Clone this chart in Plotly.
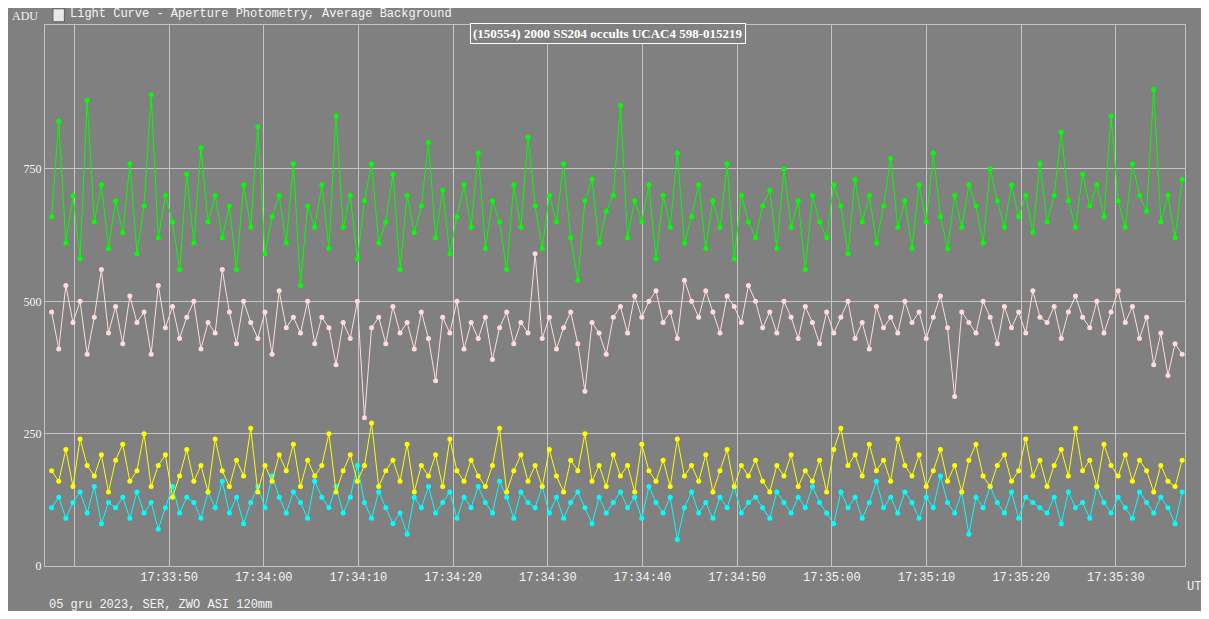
import pandas as pd
import plotly.graph_objects as go

t_start = "2023-12-05 17:33:37.6"
t_end = "2023-12-05 17:35:37.0"

green = [660,840,610,700,580,880,650,720,600,690,630,760,590,680,890,620,700,650,560,740,
         610,790,650,700,620,680,560,720,640,830,590,660,700,610,760,530,680,640,720,600,
         850,640,700,580,690,760,610,650,740,560,700,630,680,800,620,710,590,660,720,640,
         780,600,690,650,560,720,640,810,680,600,700,650,760,620,540,690,730,610,670,700,
         870,620,690,650,720,580,700,640,780,610,660,720,600,690,640,760,580,700,650,620,
         680,710,600,750,640,690,560,700,650,620,720,680,590,730,650,700,610,680,770,640,
         690,600,720,650,780,660,600,700,640,720,680,610,750,690,640,720,660,700,630,760,
         650,700,820,690,640,740,680,720,660,850,690,640,760,700,670,900,650,700,620,730]
pink = [480,410,530,460,500,400,470,560,440,490,420,510,460,480,400,530,450,490,430,470,
        500,410,460,440,560,480,420,500,460,430,480,400,520,450,470,440,500,420,470,450,
        380,460,430,500,280,450,470,420,490,440,460,410,480,430,350,470,440,500,410,460,
        430,470,390,450,480,420,460,440,590,430,470,410,450,480,420,330,460,440,400,470,
        490,440,510,470,500,520,460,480,430,540,500,470,520,480,440,510,490,460,530,500,
        450,480,440,500,470,430,490,460,420,480,440,470,500,430,460,410,490,450,470,440,
        500,460,480,430,470,510,450,320,480,460,440,500,470,420,490,450,480,440,520,470,
        460,490,430,480,510,470,450,500,440,480,520,460,490,430,470,380,440,360,420,400]
yellow = [180,160,220,150,240,190,170,210,140,200,230,160,180,250,150,190,210,130,170,220,
          160,190,140,240,180,150,200,170,260,140,190,160,210,180,230,150,200,170,190,250,
          140,180,210,160,190,270,150,180,200,160,230,140,190,170,210,150,240,180,160,200,
          170,150,190,260,140,180,210,160,190,150,220,170,140,200,180,250,160,190,150,210,
          170,190,140,230,180,160,200,150,240,170,190,160,210,140,180,220,150,190,170,200,
          160,140,190,170,210,150,180,160,200,140,220,260,190,210,170,230,180,200,160,240,
          190,170,210,150,180,220,160,190,140,200,230,170,150,190,210,160,180,240,170,200,
          150,190,220,170,260,180,200,150,230,190,170,210,160,200,180,140,190,160,150,200]
cyan = [110,130,90,120,140,100,150,80,120,110,130,90,140,100,120,70,110,150,100,130,
        120,90,140,110,160,100,130,80,120,150,110,170,130,100,140,120,90,160,130,110,
        150,100,130,190,120,90,140,110,80,100,60,130,110,150,100,120,140,90,130,110,
        150,120,100,160,130,90,140,120,110,150,100,130,90,120,140,110,80,130,100,120,
        140,110,130,90,150,120,100,130,50,110,140,100,120,90,130,110,150,100,120,130,
        110,90,140,120,100,130,110,150,120,100,80,140,110,130,90,120,160,110,130,100,
        140,120,90,130,110,170,120,100,140,60,130,110,150,120,100,140,90,130,120,110,
        100,130,80,140,110,120,90,150,120,100,130,110,90,140,120,100,130,110,80,140]

tick_times = ["17:33:40", "17:33:50", "17:34:00", "17:34:10", "17:34:20", "17:34:30",
              "17:34:40", "17:34:50", "17:35:00", "17:35:10", "17:35:20", "17:35:30"]
tick_labels = [""] + tick_times[1:]

series = [(green, "#00ff00"), (pink, "#ffdcdc"), (cyan, "#00ffff"), (yellow, "#ffff00")]

fig = go.Figure()
for vals, col in series:
    t = pd.date_range(t_start, t_end, periods=len(vals))
    fig.add_trace(go.Scatter(x=t, y=vals, mode="lines+markers",
                             line=dict(color=col, width=1),
                             marker=dict(color=col, size=5), showlegend=False))

mono = dict(family="Liberation Mono", size=12, color="#f4f4f4")
grid = "#c4c4c4"
# page body has an 8px margin, so the figure is 16px smaller than the window
fig.update_layout(
    width=1193, height=603,
    margin=dict(l=37, r=16, t=17, b=45),
    paper_bgcolor="#808080", plot_bgcolor="#808080",
    font=mono,
    xaxis=dict(range=["2023-12-05 17:33:36.9", "2023-12-05 17:35:37.3"],
               tickvals=["2023-12-05 " + s for s in tick_times], ticktext=tick_labels,
               showgrid=True, gridcolor=grid, showline=True, linecolor=grid, mirror=True,
               zeroline=False, ticks="", tickfont=mono),
    yaxis=dict(range=[0, 1022], tickvals=[0, 250, 500, 750],
               showgrid=True, gridcolor=grid, showline=True, linecolor=grid, mirror=True,
               zeroline=False, ticks="", tickfont=dict(family="Liberation Serif", size=12, color="#f4f4f4")),
)

fig.add_annotation(xref="paper", yref="paper", x=-0.004, y=1.0, yanchor="bottom", xanchor="right",
                   text="ADU", showarrow=False, font=dict(family="Liberation Serif", size=12, color="#f4f4f4"))
fig.add_annotation(xref="paper", yref="paper", x=0.02, y=1.02, yanchor="middle", xanchor="left",
                   text="Light Curve - Aperture Photometry, Average Background", showarrow=False, font=mono)
fig.add_shape(type="rect", xref="paper", yref="paper", x0=0.007, x1=0.017, y0=1.006, y1=1.03,
              fillcolor="#e8e8e8", line=dict(color="#606060", width=1))
fig.add_annotation(xref="paper", yref="paper", x=0.494, y=0.985, yanchor="middle",
                   text="<b>(150554) 2000 SS204 occults UCAC4 598-015219</b>", showarrow=False,
                   font=dict(family="Liberation Serif", size=13, color="white"),
                   bordercolor="white", borderwidth=1, borderpad=2, bgcolor="#808080")
fig.add_annotation(xref="paper", yref="paper", x=1.0, y=-0.022, xanchor="left", yanchor="top",
                   text="UT", showarrow=False, font=mono)
fig.add_annotation(xref="paper", yref="paper", x=0.002, y=-0.055, xanchor="left", yanchor="top",
                   text="05 gru 2023, SER, ZWO ASI 120mm", showarrow=False, font=mono)

fig.write_html("out.html")
